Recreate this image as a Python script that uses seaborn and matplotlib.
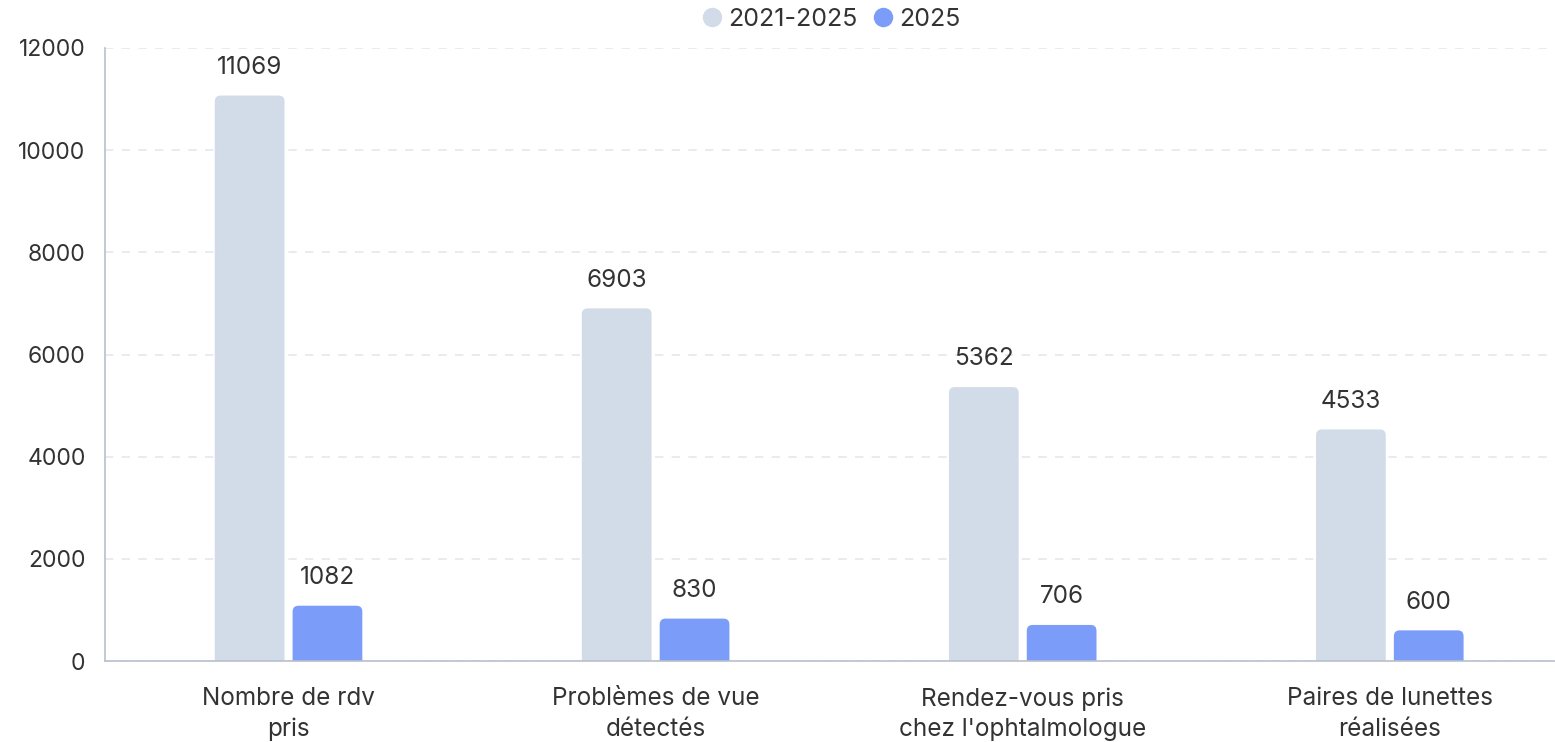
import pandas as pd
import numpy as np
import matplotlib.pyplot as plt
import seaborn as sns
from matplotlib.patches import FancyBboxPatch
from matplotlib.lines import Line2D

# data
categories = ['Nombre de rdv\npris', 'Problèmes de vue\ndétectés',
              'Rendez-vous pris\nchez l\'ophtalmologue', 'Paires de lunettes\nréalisées']
series = ['2021-2025', '2025']
values_total = [11069, 6903, 5362, 4533]
values_2025 = [1082, 830, 706, 600]
colors = ['#d1dce8', '#7b9cf8']

df = pd.DataFrame({
    'cat': categories * 2,
    'serie': [series[0]] * 4 + [series[1]] * 4,
    'val': values_total + values_2025,
})

sns.set_style('white')
plt.rcParams['font.family'] = ['Inter', 'DejaVu Sans']
txt = '#333333'

fig = plt.figure(figsize=(15.55, 7.42), dpi=100)
ax = fig.add_axes([105 / 1555, 81 / 742, 1450 / 1555, 613 / 742])

sns.barplot(data=df, x='cat', y='val', hue='serie', palette=colors,
            width=0.424, gap=0.104, ax=ax, legend=False, saturation=1)

ax.set_xlim(-0.5, 3.45)
ax.set_ylim(0, 12000)
ax.set_yticks(range(0, 12001, 2000))

# rounded tops: swap rectangles for rounded boxes that dip below 0 (clipped)
asp = (12000 / 613) / (3.95 / 1450)
for p in list(ax.patches):
    x, w, h = p.get_x(), p.get_width(), p.get_height()
    fc = p.get_facecolor()
    p.remove()
    r = 0.016
    fb = FancyBboxPatch((x, -300), w, h + 300,
                        boxstyle=f'round,pad=0,rounding_size={r}',
                        mutation_aspect=asp, fc=fc, ec='none', zorder=2)
    ax.add_patch(fb)
    ax.annotate(f'{int(h)}', (x + w / 2, h), xytext=(0, 12), textcoords='offset points',
                ha='center', va='bottom', fontsize=17.5, color=txt)

ax.grid(axis='y', color='#e5e7ee', linestyle=(0, (5, 5)), linewidth=1.2, zorder=0)
ax.set_axisbelow(True)
for s in ['top', 'right']:
    ax.spines[s].set_visible(False)
ax.spines['left'].set_color('#b8c0cc')
ax.spines['bottom'].set_color('#b8c0cc')
ax.spines['left'].set_linewidth(1.2)
ax.spines['bottom'].set_linewidth(1.2)
ax.tick_params(axis='y', length=8, color='#b8c0cc', labelsize=16.5, labelcolor=txt, pad=6)
ax.tick_params(axis='x', length=0, labelsize=17.5, labelcolor=txt, pad=19)
for t in ax.get_xticklabels():
    t.set_linespacing(1.4)
ax.set_xlabel('')
ax.set_ylabel('')

handles = [Line2D([], [], marker='o', ls='', markersize=14, markerfacecolor=c,
                  markeredgecolor='none') for c in colors]
ax.legend(handles, series, loc='center', bbox_to_anchor=(0.5, 1 + 29 / 613), ncol=2,
          frameon=False, fontsize=18, labelcolor=txt, handlelength=1.0,
          handletextpad=0.15, columnspacing=0.5)

fig.savefig('out.png', dpi=100)
